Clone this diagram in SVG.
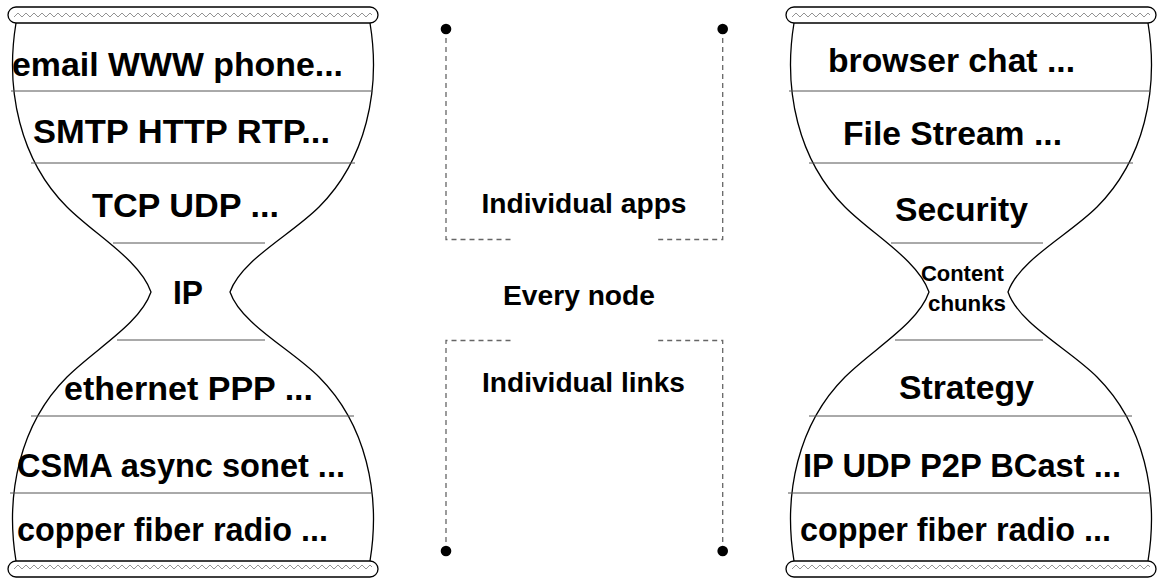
<svg xmlns="http://www.w3.org/2000/svg" xmlns:xlink="http://www.w3.org/1999/xlink" width="1164" height="588" viewBox="0 0 1164 588">
<style>
  .outline { fill: none; stroke: #000; stroke-width: 1.3; }
  .sep { stroke: #555; stroke-width: 1; }
  .cap { fill: #fff; stroke: #000; stroke-width: 1.3; }
  .zig { fill: url(#zz); stroke: none; }
  .lbl { font-family: "Liberation Sans", Arial, sans-serif; font-weight: bold; font-size: 33.8px; fill: #000; text-anchor: middle; }
  .sm { font-size: 22px; }
  .mid { font-size: 28px; }
  .dash { fill: none; stroke: #666; stroke-width: 1.3; stroke-dasharray: 5 4; }
  .dot { fill: #000; }
</style>
<defs>
  <pattern id="zz" patternUnits="userSpaceOnUse" x="14" y="11" width="8" height="8">
    <path d="M0,6 L4,2 L8,6" fill="none" stroke="#888" stroke-width="0.9"/>
  </pattern>
  <g id="hg-shape">
    <path class="outline" d="M16,23 C5,90 20,160 67,207 C95,235 140,260 151,292 C140,324 95,349 67,377 C20,424 5,494 16,561"/>
    <path class="outline" d="M370,23 C381,90 366,160 319,207 C291,235 241,260 230,292 C241,324 291,349 319,377 C366,424 381,494 370,561"/>
    <line class="sep" x1="11" y1="91" x2="373" y2="91"/>
    <line class="sep" x1="31" y1="163" x2="355" y2="163"/>
    <line class="sep" x1="113" y1="243" x2="265" y2="243"/>
    <line class="sep" x1="117" y1="340" x2="265" y2="340"/>
    <line class="sep" x1="31" y1="416" x2="354" y2="416"/>
    <line class="sep" x1="10" y1="493" x2="371" y2="493"/>
    <rect class="cap" x="8" y="7" width="370" height="16" rx="8"/>
    <rect class="zig" x="14" y="11" width="358" height="8"/>
    <rect class="cap" x="8" y="561" width="370" height="16" rx="8"/>
    <rect class="zig" x="14" y="565" width="358" height="8"/>
  </g>
</defs>

<g id="hourglass-left">
  <use xlink:href="#hg-shape" href="#hg-shape"/>
  <text class="lbl" x="177.5" y="76" textLength="331" lengthAdjust="spacingAndGlyphs">email WWW phone...</text>
  <text class="lbl" x="181.5" y="143" textLength="297" lengthAdjust="spacingAndGlyphs">SMTP HTTP RTP...</text>
  <text class="lbl" x="185.5" y="217" textLength="187" lengthAdjust="spacingAndGlyphs">TCP UDP ...</text>
  <text class="lbl" x="188" y="304" textLength="30" lengthAdjust="spacingAndGlyphs">IP</text>
  <text class="lbl" x="188.5" y="400" textLength="249" lengthAdjust="spacingAndGlyphs">ethernet PPP ...</text>
  <text class="lbl" x="181" y="477" textLength="328" lengthAdjust="spacingAndGlyphs">CSMA async sonet ...</text>
  <text class="lbl" x="172.5" y="541" textLength="311" lengthAdjust="spacingAndGlyphs">copper fiber radio ...</text>
</g>

<g id="hourglass-right">
  <use xlink:href="#hg-shape" href="#hg-shape" transform="translate(778,0)"/>
  <text class="lbl" x="951.5" y="72" textLength="247" lengthAdjust="spacingAndGlyphs">browser chat ...</text>
  <text class="lbl" x="952.5" y="145" textLength="219" lengthAdjust="spacingAndGlyphs">File Stream ...</text>
  <text class="lbl" x="961.5" y="221" textLength="133" lengthAdjust="spacingAndGlyphs">Security</text>
  <text class="lbl sm" x="962.4" y="280.7" textLength="83" lengthAdjust="spacingAndGlyphs">Content</text>
  <text class="lbl sm" x="967" y="310.7" textLength="78" lengthAdjust="spacingAndGlyphs">chunks</text>
  <text class="lbl" x="966.5" y="399" textLength="135" lengthAdjust="spacingAndGlyphs">Strategy</text>
  <text class="lbl" x="962" y="477" textLength="318" lengthAdjust="spacingAndGlyphs">IP UDP P2P BCast ...</text>
  <text class="lbl" x="955.5" y="541" textLength="311" lengthAdjust="spacingAndGlyphs">copper fiber radio ...</text>
</g>

<g id="connectors">
  <path class="dash" d="M446,29 V239.5 H513"/>
  <path class="dash" d="M722.7,29 V239.5 H656"/>
  <path class="dash" d="M446,551 V340.5 H513"/>
  <path class="dash" d="M722.7,551 V340.5 H656"/>
  <circle class="dot" cx="446" cy="29" r="5.3"/>
  <circle class="dot" cx="722.7" cy="29" r="5.3"/>
  <circle class="dot" cx="446" cy="551" r="5.3"/>
  <circle class="dot" cx="722.7" cy="551" r="5.3"/>
</g>

<g id="middle-labels">
  <text class="lbl mid" x="584" y="213" textLength="205" lengthAdjust="spacingAndGlyphs">Individual apps</text>
  <text class="lbl mid" x="579" y="305" textLength="152" lengthAdjust="spacingAndGlyphs">Every node</text>
  <text class="lbl mid" x="583.5" y="392" textLength="203" lengthAdjust="spacingAndGlyphs">Individual links</text>
</g>
</svg>
